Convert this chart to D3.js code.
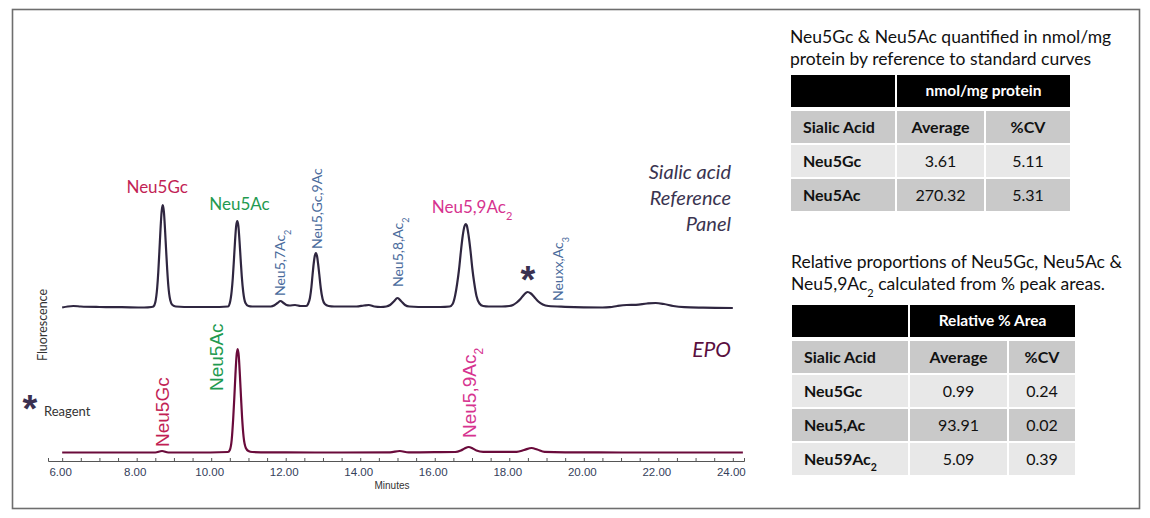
<!DOCTYPE html>
<html>
<head>
<meta charset="utf-8">
<script src="https://cdn.jsdelivr.net/npm/d3@7"></script>
<style>
  html, body { margin: 0; padding: 0; background: #fff; }
  svg { display: block; }
</style>
</head>
<body>
<svg id="chart" width="1150" height="518"></svg>
<script>
// ---- Chromatogram data (minutes, fluorescence in arbitrary units) ----
const refTime = [6.0, 6.15, 6.3, 6.5, 7.0, 7.6, 8.2,
    8.40, 8.45, 8.50, 8.55, 8.58, 8.61, 8.64, 8.67, 8.70, 8.73, 8.76, 8.79, 8.82, 8.85, 8.90, 8.96, 9.05, 9.5, 10.0,
    10.45, 10.50, 10.55, 10.58, 10.61, 10.64, 10.67, 10.70, 10.73, 10.76, 10.79, 10.82, 10.86, 10.92, 11.0, 11.1, 11.35,
    11.6, 11.7, 11.78, 11.86, 11.94, 12.02, 12.1, 12.25, 12.4,
    12.55, 12.60, 12.65, 12.69, 12.72, 12.75, 12.78, 12.81, 12.84, 12.87, 12.90, 12.94, 12.99, 13.05, 13.15, 13.3, 13.6,
    13.9, 14.1, 14.23, 14.38, 14.55,
    14.7, 14.8, 14.9, 15.0, 15.1, 15.2, 15.32, 15.8, 16.15,
    16.40, 16.48, 16.55, 16.60, 16.65, 16.70, 16.75, 16.80, 16.83, 16.86, 16.91, 16.96, 17.01, 17.06, 17.12, 17.20, 17.30, 17.45, 17.8,
    18.0, 18.1, 18.2, 18.3, 18.4, 18.49, 18.58, 18.68, 18.78, 18.9, 19.05, 19.5, 20.5,
    20.7, 20.9, 21.15, 21.4, 21.7, 21.93, 22.15, 22.4, 22.7, 23.2, 24.0];
const refSignal = [0.5, 1.5, 2, 1.5, 1, 0.8, 0.5,
    1, 1.5, 5.7, 20, 36, 57, 79, 96.5, 103, 96.5, 79, 58, 38, 22, 8, 3, 1.5, 1, 1,
    1.5, 5, 17, 30, 48, 67, 82, 87, 82, 67, 49, 32, 16, 5, 2, 1.5, 1.5,
    1.5, 2.8, 5, 7, 5, 3, 2.5, 3, 2,
    2, 4, 10, 21, 33, 44, 52, 55, 52, 44, 34, 20, 9, 4, 2, 1.5, 1.5,
    1.5, 2.5, 3, 1.5, 1,
    1.5, 3, 6.5, 10, 6.8, 3, 1.5, 1, 1,
    1.5, 4, 13, 24, 38, 56, 72, 82, 84, 82.5, 72, 57, 39, 25, 12, 4.5, 2, 1.5, 1.5,
    2, 3, 5.5, 9, 13.5, 16, 14.5, 10.5, 6.5, 3.5, 2, 1.2, 0.5,
    0.8, 2, 3, 3.2, 4.5, 5, 4, 2, 0.8, 0.3, 0];

const epoTime = [6.0, 7.0, 8.0, 8.5, 8.68, 8.85, 9.5,
    10.45, 10.50, 10.55, 10.59, 10.62, 10.65, 10.68, 10.71, 10.74, 10.77, 10.80, 10.83, 10.87, 10.93, 11.0, 11.1,
    12.0, 13.5, 14.8, 15.06, 15.3, 16.0,
    16.55, 16.7, 16.8, 16.91, 17.02, 17.12, 17.3, 17.8,
    18.2, 18.4, 18.6, 18.75, 18.95, 19.5, 21.0, 22.5, 24.27];
const epoSignal = [0.5, 0.5, 0.5, 0.5, 2, 0.5, 0.5,
    1, 3, 13, 34, 55, 78, 97, 104, 97, 78, 56, 35, 16, 5, 2, 1,
    0.6, 0.5, 0.6, 2, 0.6, 0.8,
    1, 2.5, 4.5, 6, 4.5, 2.5, 1.2, 1.2,
    1.2, 3, 5, 3.5, 1.2, 0.7, 0.5, 0.5, 0.5];

// ---- Axis ticks ----
const minorTicks = d3.range(6, 24.01, 0.5);
const majorTicks = [6, 8, 10, 12, 14, 16, 18, 20, 22, 24];

// ---- Peak annotations ----
const refUprightLabels = ['Neu5Gc', 'Neu5Ac', 'Neu5,9Ac_2'];
const refUprightTimes = [8.55, 10.76, 17.0];
const refUprightSignals = [115, 98, 95];
const refUprightColors = ['#c21f55', '#1f9a50', '#d6338f'];

const refSideLabels = ['Neu5,7Ac_2', 'Neu5,Gc,9Ac', 'Neu5,8,Ac_2', 'Neuxx,Ac_3'];
const refSideTimes = [11.84, 12.83, 15.02, 19.32];
const refSideSignals = [12, 59, 21, 7];

const epoLabels = ['Neu5Gc', 'Neu5Ac', 'Neu5,9Ac_2'];
const epoTimes = [8.7, 10.15, 16.92];
const epoSignals = [6, 62, 15];
const epoColors = ['#c21f55', '#1f9a50', '#d6338f'];

// ---- Tables ----
const quantTitle = ['Neu5Gc & Neu5Ac quantified in nmol/mg', 'protein by reference to standard curves'];
const quantHeader = 'nmol/mg protein';
const quantColumns = ['Sialic Acid', 'Average', '%CV'];
const quantAcids = ['Neu5Gc', 'Neu5Ac'];
const quantAverage = ['3.61', '270.32'];
const quantCV = ['5.11', '5.31'];

const relTitle = ['Relative proportions of Neu5Gc, Neu5Ac &', 'Neu5,9Ac_2 calculated from % peak areas.'];
const relHeader = 'Relative % Area';
const relColumns = ['Sialic Acid', 'Average', '%CV'];
const relAcids = ['Neu5Gc', 'Neu5,Ac', 'Neu59Ac_2'];
const relAverage = ['0.99', '93.91', '5.09'];
const relCV = ['0.24', '0.02', '0.39'];

const svg = d3.select('#chart');
const UI_FONT = 'Lato, "Open Sans", sans-serif';
const ARIAL = '"Liberation Sans", Arial, sans-serif';

/**
 * Write a label into a text element; "_x" marks a one-character subscript.
 */
function setRichText(textSel, label, subSize) {
    const parts = label.split(/_(\w)/);
    parts.forEach((part, i) => {
        if (!part) return;
        const span = textSel.append('tspan').text(part);
        if (i % 2 === 1) {
            span.attr('baseline-shift', 'sub').style('font-size', subSize);
        }
    });
}

// outer frame
svg.append('rect')
    .attr('x', 12.5).attr('y', 9.5)
    .attr('width', 1127).attr('height', 499)
    .attr('fill', 'none')
    .attr('stroke', '#6e6e6e')
    .attr('stroke-width', 1.6);

// scales
const x = d3.scaleLinear().domain([5.62, 24.3]).range([48, 744]);
const yRef = d3.scaleLinear().domain([0, 100]).range([308, 208]);
const yEpo = d3.scaleLinear().domain([0, 100]).range([453, 353]);

const plot = svg.append('g').attr('class', 'plot');

// traces
const refLine = d3.line()
    .x((d, i) => x(refTime[i]))
    .y(d => yRef(d))
    .curve(d3.curveMonotoneX);

const epoLine = d3.line()
    .x((d, i) => x(epoTime[i]))
    .y(d => yEpo(d))
    .curve(d3.curveMonotoneX);

plot.append('path')
    .attr('d', refLine(refSignal))
    .attr('fill', 'none')
    .attr('stroke', '#2f2640')
    .attr('stroke-width', 2.2)
    .attr('stroke-linejoin', 'round');

plot.append('path')
    .attr('d', epoLine(epoSignal))
    .attr('fill', 'none')
    .attr('stroke', '#6a0b3b')
    .attr('stroke-width', 2.2)
    .attr('stroke-linejoin', 'round');

// x axis (ticks point up into the plot)
const axisY = 461;
const axis = d3.axisBottom(x)
    .tickValues(minorTicks)
    .tickSize(-3)
    .tickPadding(7)
    .tickFormat(d => majorTicks.includes(d) ? d3.format('.2f')(d) : '');

const axisG = plot.append('g')
    .attr('transform', `translate(0, ${axisY})`)
    .call(axis);

axisG.select('.domain').attr('stroke', '#555');
axisG.selectAll('.tick line').attr('stroke', '#555');
axisG.selectAll('.tick text')
    .attr('dx', -2)
    .style('font-family', ARIAL)
    .style('font-size', '11.5px')
    .style('fill', '#34405a');

plot.append('text')
    .attr('x', 392).attr('y', 489)
    .attr('text-anchor', 'middle')
    .style('font-family', ARIAL)
    .style('font-size', '10px')
    .style('fill', '#333')
    .text('Minutes');

// y axis title
plot.append('text')
    .attr('transform', 'translate(43, 325) rotate(-90)')
    .attr('text-anchor', 'middle')
    .attr('dy', '0.35em')
    .style('font-family', UI_FONT)
    .style('font-size', '12.5px')
    .style('fill', '#333')
    .text('Fluorescence');

// reference panel labels
refUprightLabels.forEach((label, i) => {
    const t = plot.append('text')
        .attr('x', x(refUprightTimes[i]))
        .attr('y', yRef(refUprightSignals[i]))
        .attr('text-anchor', 'middle')
        .style('font-family', UI_FONT)
        .style('font-size', '17px')
        .style('fill', refUprightColors[i]);
    setRichText(t, label, '11px');
});

refSideLabels.forEach((label, i) => {
    const t = plot.append('text')
        .attr('transform', `translate(${x(refSideTimes[i])}, ${yRef(refSideSignals[i])}) rotate(-90)`)
        .attr('dy', '0.35em')
        .style('font-family', UI_FONT)
        .style('font-size', '14px')
        .style('fill', '#4a6b9c');
    setRichText(t, label, '9px');
});

// asterisk over the reagent peak
plot.append('text')
    .attr('x', x(18.5)).attr('y', 293)
    .attr('text-anchor', 'middle')
    .style('font-family', ARIAL)
    .style('font-size', '38px')
    .style('font-weight', 'bold')
    .style('fill', '#3a3050')
    .text('*');

// trace titles
const refTitle = ['Sialic acid', 'Reference', 'Panel'];
plot.selectAll('.ref-title')
    .data(refTitle)
    .enter()
    .append('text')
    .attr('class', 'ref-title')
    .attr('x', 731)
    .attr('y', (d, i) => 179 + i * 26)
    .attr('text-anchor', 'end')
    .style('font-family', UI_FONT)
    .style('font-style', 'italic')
    .style('font-size', '20px')
    .style('fill', '#3a3450')
    .text(d => d);

plot.append('text')
    .attr('x', 731).attr('y', 357)
    .attr('text-anchor', 'end')
    .style('font-family', UI_FONT)
    .style('font-style', 'italic')
    .style('font-size', '21px')
    .style('fill', '#5a0f3f')
    .text('EPO');

// EPO peak labels
epoLabels.forEach((label, i) => {
    const t = plot.append('text')
        .attr('transform', `translate(${x(epoTimes[i])}, ${yEpo(epoSignals[i])}) rotate(-90)`)
        .attr('dy', '0.35em')
        .style('font-family', ARIAL)
        .style('font-size', '19px')
        .style('fill', epoColors[i]);
    setRichText(t, label, '12px');
});

// reagent key
plot.append('text')
    .attr('x', 30).attr('y', 422)
    .attr('text-anchor', 'middle')
    .style('font-family', ARIAL)
    .style('font-size', '38px')
    .style('font-weight', 'bold')
    .style('fill', '#3a3050')
    .text('*');

plot.append('text')
    .attr('x', 44).attr('y', 416)
    .style('font-family', UI_FONT)
    .style('font-size', '13px')
    .style('fill', '#333')
    .text('Reagent');

/**
 * Draw a summary table: black header band, grey column header row,
 * then alternating light/dark data rows.
 */
function drawTable(container, opts) {
    const {
        x0, titleY, headerY, colWidths, title, header, columns, rows,
        gap = 2, headerH = 32, rowH = 32
    } = opts;

    const g = container.append('g').attr('class', 'table');
    const colX = colWidths.map((w, i) => x0 + d3.sum(colWidths.slice(0, i)) + i * gap);

    // title lines
    title.forEach((line, i) => {
        const t = g.append('text')
            .attr('x', x0 - 1)
            .attr('y', titleY + i * 22)
            .style('font-family', UI_FONT)
            .style('font-size', '17.5px')
            .style('fill', '#111');
        setRichText(t, line, '11px');
    });

    // header band
    g.append('rect')
        .attr('x', colX[0]).attr('y', headerY)
        .attr('width', colWidths[0]).attr('height', headerH)
        .attr('fill', '#000');
    const spanW = colWidths[1] + colWidths[2] + gap;
    g.append('rect')
        .attr('x', colX[1]).attr('y', headerY)
        .attr('width', spanW).attr('height', headerH)
        .attr('fill', '#000');
    g.append('text')
        .attr('x', colX[1] + spanW / 2)
        .attr('y', headerY + headerH / 2)
        .attr('dy', '0.35em')
        .attr('text-anchor', 'middle')
        .style('font-family', UI_FONT)
        .style('font-weight', 'bold')
        .style('font-size', '15.5px')
        .style('fill', '#fff')
        .text(header);

    const allRows = [columns].concat(rows);
    const bodyY = headerY + headerH + 4;

    allRows.forEach((row, r) => {
        const y0 = bodyY + r * (rowH + gap);
        const fill = r % 2 === 0 ? '#c9c9c9' : '#e8e8e8';
        row.forEach((cell, c) => {
            g.append('rect')
                .attr('x', colX[c]).attr('y', y0)
                .attr('width', colWidths[c]).attr('height', rowH)
                .attr('fill', fill);
            const t = g.append('text')
                .attr('x', c === 0 ? colX[c] + 12 : colX[c] + colWidths[c] / 2)
                .attr('y', y0 + rowH / 2)
                .attr('dy', '0.35em')
                .attr('text-anchor', c === 0 ? 'start' : 'middle')
                .style('font-family', UI_FONT)
                .style('font-size', '16px')
                .style('font-weight', (r === 0 || c === 0) ? 'bold' : 'normal')
                .style('fill', '#111');
            setRichText(t, cell, '10.5px');
        });
    });

    return g;
}

drawTable(svg, {
    x0: 791, titleY: 43, headerY: 75,
    colWidths: [104, 87, 84],
    title: quantTitle, header: quantHeader, columns: quantColumns,
    rows: quantAcids.map((a, i) => [a, quantAverage[i], quantCV[i]])
});

drawTable(svg, {
    x0: 792, titleY: 268, headerY: 305,
    colWidths: [116, 97, 66],
    title: relTitle, header: relHeader, columns: relColumns,
    rows: relAcids.map((a, i) => [a, relAverage[i], relCV[i]])
});
</script>
</body>
</html>
